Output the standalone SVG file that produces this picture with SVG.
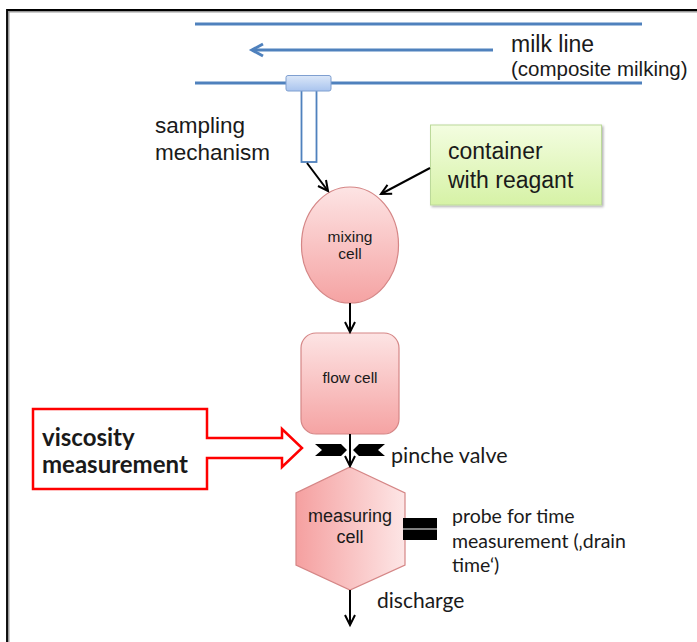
<svg xmlns="http://www.w3.org/2000/svg" width="697" height="642" viewBox="0 0 697 642">
  <defs>
    <linearGradient id="gPinkV" x1="0" y1="0" x2="0" y2="1">
      <stop offset="0" stop-color="#fde4e4"/>
      <stop offset="1" stop-color="#f5a3a3"/>
    </linearGradient>
    <linearGradient id="gPinkH" x1="0" y1="0" x2="1" y2="0">
      <stop offset="0" stop-color="#f5a0a0"/>
      <stop offset="1" stop-color="#fde6e6"/>
    </linearGradient>
    <linearGradient id="gGreen" x1="0" y1="0" x2="0" y2="1">
      <stop offset="0" stop-color="#f3fde0"/>
      <stop offset="1" stop-color="#d6f2a6"/>
    </linearGradient>
    <linearGradient id="gBlue" x1="0" y1="0" x2="0" y2="1">
      <stop offset="0" stop-color="#dbe7f8"/>
      <stop offset="1" stop-color="#a9c4ee"/>
    </linearGradient>
    <marker id="open" markerUnits="userSpaceOnUse" markerWidth="14" markerHeight="14" refX="11" refY="6" orient="auto" overflow="visible">
      <path d="M1,1 L11,6 L1,11" fill="none" stroke="#000" stroke-width="2"/>
    </marker>
    <marker id="openBlue" markerUnits="userSpaceOnUse" markerWidth="16" markerHeight="16" refX="12" refY="7" orient="auto" overflow="visible">
      <path d="M1,1 L12,7 L1,13" fill="none" stroke="#4f81bd" stroke-width="3"/>
    </marker>
    <filter id="shadow" x="-10%" y="-10%" width="130%" height="130%">
      <feDropShadow dx="1.5" dy="1.5" stdDeviation="1.2" flood-color="#000" flood-opacity="0.3"/>
    </filter>
  </defs>
  <style>
    .arial { font-family: "Liberation Sans", Arial, sans-serif; fill: #1a1a1a; }
    .cal { font-family: Lato, "Open Sans", sans-serif; fill: #1a1a1a; }
    .pipe { stroke: #4f81bd; stroke-width: 3; fill: none; }
    .conn { stroke: #000; stroke-width: 2; fill: none; marker-end: url(#open); }
    .cell { stroke: #d58686; stroke-width: 1.2; }
  </style>

  <rect width="697" height="642" fill="#fff"/>

  <!-- outer frame -->
  <path d="M8,642 V11 H697" fill="none" stroke="#999" stroke-width="3"/>
  <path d="M7,642 V10 H697" fill="none" stroke="#000" stroke-width="1.8"/>

  <!-- milk line -->
  <g id="milk-line">
    <line class="pipe" x1="195" y1="24" x2="642" y2="24"/>
    <line class="pipe" x1="195" y1="83" x2="642" y2="83"/>
    <line x1="493" y1="50" x2="252" y2="50" stroke="#4f81bd" stroke-width="3" marker-end="url(#openBlue)"/>
    <text class="arial" x="511" y="52" font-size="23">milk line</text>
    <text class="arial" x="511" y="76" font-size="20.5">(composite milking)</text>
  </g>

  <!-- sampling mechanism -->
  <g id="sampling">
    <rect x="301.5" y="90" width="15" height="72" fill="#fff" stroke="#4f81bd" stroke-width="1.8"/>
    <rect x="286" y="75.5" width="45" height="15.5" rx="2" fill="url(#gBlue)" stroke="#7f9fd0" stroke-width="1"/>
    <text class="arial" x="155" y="133" font-size="22.5">sampling</text>
    <text class="arial" x="155" y="160" font-size="22.5">mechanism</text>
  </g>

  <!-- reagent container -->
  <g id="container">
    <rect x="430.5" y="125" width="171" height="80" fill="url(#gGreen)" stroke="#bcd99a" stroke-width="1" filter="url(#shadow)"/>
    <text class="arial" x="448" y="159" font-size="23">container</text>
    <text class="arial" x="448" y="188" font-size="23">with reagant</text>
  </g>

  <!-- mixing cell -->
  <g id="mixing-cell">
    <ellipse class="cell" cx="350" cy="245" rx="48.5" ry="58" fill="url(#gPinkV)"/>
    <text class="arial" x="350" y="242" font-size="15.5" text-anchor="middle">mixing</text>
    <text class="arial" x="350" y="259" font-size="15.5" text-anchor="middle">cell</text>
  </g>

  <!-- flow cell -->
  <g id="flow-cell">
    <rect class="cell" x="301" y="333" width="98" height="101" rx="15" fill="url(#gPinkV)"/>
    <text class="arial" x="350" y="383" font-size="15.5" text-anchor="middle">flow cell</text>
  </g>

  <!-- measuring cell -->
  <g id="measuring-cell">
    <polygon class="cell" points="350,467 405,493 405,565 350,590 296,565 296,493" fill="url(#gPinkH)"/>
    <text class="arial" x="350" y="522" font-size="18" text-anchor="middle">measuring</text>
    <text class="arial" x="350" y="543" font-size="18" text-anchor="middle">cell</text>
  </g>

  <!-- connectors -->
  <g id="connectors">
    <line class="conn" x1="307" y1="163" x2="328" y2="191"/>
    <line class="conn" x1="430" y1="168" x2="381" y2="194"/>
    <line class="conn" x1="350" y1="303" x2="350" y2="332"/>
    <line class="conn" x1="350" y1="434" x2="350" y2="466"/>
    <line class="conn" x1="350" y1="590" x2="350" y2="625"/>
  </g>

  <!-- pinch valve -->
  <g id="pinch-valve">
    <polygon points="315,444 341,444 347,450 341,456 315,456 322,450" fill="#000"/>
    <polygon points="385,444 359,444 353,450 359,456 385,456 378,450" fill="#000"/>
    <text class="cal" x="391" y="463" font-size="21.5">pinche valve</text>
  </g>

  <!-- probe for drain time -->
  <g id="probe">
    <rect x="403" y="518" width="34" height="22" fill="#000"/>
    <line x1="403" y1="529" x2="437" y2="529" stroke="#fff" stroke-width="1.2"/>
    <text class="cal" x="452" y="523" font-size="19.5">probe for time</text>
    <text class="cal" x="452" y="548" font-size="19.5">measurement (‚drain</text>
    <text class="cal" x="452" y="572" font-size="19.5">time‘)</text>
  </g>

  <!-- viscosity callout -->
  <g id="viscosity">
    <path d="M33,409 H207 V438 H282 V429 L302,448 L282,467 V458 H207 V489 H33 Z" fill="#fff" stroke="#ff0000" stroke-width="2.5"/>
    <text class="cal" x="42" y="446" font-size="24" font-weight="bold">viscosity</text>
    <text class="cal" x="42" y="473" font-size="24" font-weight="bold">measurement</text>
  </g>

  <!-- discharge -->
  <g id="discharge">
    <text class="cal" x="377" y="608" font-size="21">discharge</text>
  </g>
</svg>
